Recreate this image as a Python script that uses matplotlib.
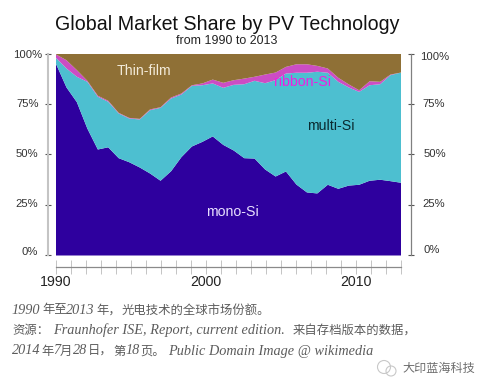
import matplotlib
matplotlib.use('Agg')
import matplotlib.pyplot as plt
from matplotlib.patches import Circle

W, H = 479, 382

# 数据点横坐标（年）
years = [1990, 1990.70, 1991.39, 1992.09, 1992.79, 1993.48, 1994.18, 1994.88, 1995.58,
         1996.27, 1996.97, 1997.67, 1998.36, 1999.06, 1999.76, 2000.45, 2001.15,
         2001.85, 2002.55, 2003.24, 2003.94, 2004.64, 2005.33, 2006.03, 2006.73,
         2007.42, 2008.12, 2008.82, 2009.52, 2010.21, 2010.91, 2011.61, 2012.30, 2013]
# 各层的上边界（%）
mono_top = [95.1, 83.4, 76.1, 63.0, 52.6, 53.7, 48.3, 46.3, 43.7, 40.7, 37.1, 41.8,
            48.8, 54.1, 56.4, 59.1, 54.9, 52.1, 48.3, 48.1, 42.7, 39.2, 41.7, 35.2,
            31.3, 30.8, 35.1, 33.1, 34.7, 35.1, 37.1, 37.6, 36.9, 36.1]
multi_top = [98.1, 92.8, 88.7, 86.2, 78.8, 76.3, 70.5, 68.0, 67.5, 72.1, 73.3, 77.9,
             79.9, 84.2, 84.5, 85.4, 83.2, 84.7, 85.0, 86.7, 85.5, 87.0, 90.3, 90.7,
             90.7, 91.2, 90.7, 86.2, 83.4, 81.2, 84.5, 85.0, 89.5, 90.8]
ribbon_top = [99.8, 96.9, 92.0, 86.7, 79.3, 76.8, 70.8, 68.3, 67.8, 72.5, 73.6, 78.4,
              80.4, 84.5, 85.4, 87.3, 85.7, 87.0, 87.8, 88.7, 89.8, 90.8, 93.6, 94.9,
              94.9, 94.1, 92.8, 88.2, 84.9, 82.0, 86.5, 86.2, 89.8, 90.8]
film_top = [100] * len(years)

pct_ticks = [0, 25, 50, 75, 100]
year_labels = [1990, 2000, 2010]
minor_years = list(range(1990, 2014))

# 图注分段：(x, 文字)，中文和西文字号不同
caption_1 = [(11.7, '1990'), (42, '年至'), (66, '2013'), (96, '年，'), (122, '光电技术的全球市场份额。')]
caption_2 = [(12.7, '资源：'), (53.3, 'Fraunhofer ISE, Report, current edition.'), (293, '来自存档版本的数据，')]
caption_3 = [(11.7, '2014'), (41, '年'), (53.5, '7'), (60, '月'), (72.5, '28'), (88, '日，'),
             (113, '第'), (125.5, '18'), (140, '页。'), (168, 'Public Domain Image @ wikimedia')]

plt.rcParams['font.family'] = ['Liberation Sans', 'Noto Sans CJK SC', 'DejaVu Sans']


def txt(x, y, s, **kw):
    # 按像素位置放文字
    kw.setdefault('ha', 'center')
    kw.setdefault('va', 'center')
    fig.text(x / W, 1 - y / H, s, **kw)


fig = plt.figure(figsize=(W / 100, H / 100), dpi=100)
ax = fig.add_axes([55.5 / W, 1 - 255 / H, 345 / W, 201.5 / H])
ax.set_xlim(1990, 2013)
ax.set_ylim(0, 100)

ax.fill_between(years, 0, mono_top, color='#2E009E', lw=0)
ax.fill_between(years, mono_top, multi_top, color='#4DBFD0', lw=0)
ax.fill_between(years, multi_top, ribbon_top, color='#CC4DC4', lw=0)
ax.fill_between(years, ribbon_top, film_top, color='#8F7036', lw=0)

# 坐标轴
ax.spines['top'].set_visible(False)
ax.spines['left'].set_position(('outward', 5.4))
ax.spines['left'].set_color('#c4c4c4')
ax.spines['left'].set_linewidth(1.5)
ax.spines['right'].set_position(('outward', 7.4))
ax.spines['right'].set_color('#808080')
ax.spines['right'].set_linewidth(0.9)
ax.spines['bottom'].set_position(('outward', 8.6))
ax.spines['bottom'].set_color('#8a8a8a')
ax.spines['bottom'].set_linewidth(0.9)

ax.set_yticks(pct_ticks)
ax.tick_params(axis='y', left=True, right=True, labelleft=False, labelright=False,
               direction='inout', length=4.5, width=0.8, color='#555555')
ax.set_xticks(minor_years)
ax.set_xticklabels([])
ax.tick_params(axis='x', direction='inout', length=10, width=0.7, color='#c4c4c4')

# 标题
txt(227.5, 24.5, 'Global Market Share by PV Technology', fontsize=14.1, color='#111111')
txt(227, 41, 'from 1990 to 2013', fontsize=8.9, color='#222222')

# 刻度文字
left_pos = {100: (42.5, 54.5), 75: (38.5, 104), 50: (38.5, 154), 25: (37.5, 204), 0: (38, 252)}
right_pos = {100: (420, 57), 75: (422, 104), 50: (424, 154), 25: (422, 204), 0: (423, 250)}
for p in pct_ticks:
    txt(left_pos[p][0], left_pos[p][1], '%d%%' % p, ha='right', fontsize=8.1, color='#333333')
    txt(right_pos[p][0], right_pos[p][1], '%d%%' % p, ha='left', fontsize=8.1, color='#333333')
for yr in year_labels:
    txt(55.5 + (yr - 1990) * 15, 282.5, str(yr), fontsize=10.2, color='#222222')

# 区域标签
txt(143.5, 71, 'Thin-film', fontsize=10.2, color='#f2ead8')
txt(302.5, 82.5, 'ribbon-Si', fontsize=10.2, color='#f020e0')
txt(330.5, 126.5, 'multi-Si', fontsize=10.2, color='#0a2a30')
txt(232, 212, 'mono-Si', fontsize=10.2, color='#e8e0ff')

# 图注
for segs, y in zip([caption_1, caption_2, caption_3], [310, 330.5, 351]):
    for x, s in segs:
        if s[0].isascii():
            txt(x, y, s, ha='left', fontsize=10.3, style='italic', color='#5c5c5c',
                family=['Liberation Serif'])
        else:
            txt(x, y, s, ha='left', fontsize=8.9, color='#5c5c5c',
                family=['Noto Sans CJK SC'])

# 水印
txt(439, 368.5, '大印蓝海科技', fontsize=8.7, color='#6e6e6e')
wm = fig.add_axes([0, 0, 1, 1], facecolor='none')
wm.set_xlim(0, W)
wm.set_ylim(H, 0)
wm.axis('off')
wm.add_patch(Circle((384, 367), 6.5, fill=False, ec='#c8c8c8', lw=0.8))
wm.add_patch(Circle((391, 371), 5, fill=False, ec='#c8c8c8', lw=0.8))

fig.savefig('out.png', dpi=100)
